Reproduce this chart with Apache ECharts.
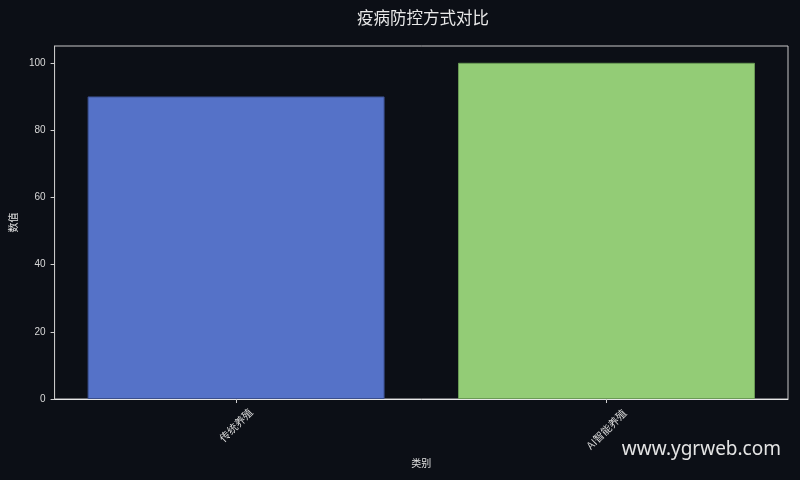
<!DOCTYPE html>
<html>
<head>
<meta charset="utf-8">
<script src="https://cdn.jsdelivr.net/npm/echarts@6/dist/echarts.min.js"></script>
<style>
html,body{margin:0;padding:0;background:#0c0f16;}
#chart{width:800px;height:480px;}
</style>
</head>
<body>
<div id="chart"></div>
<script>
const categories = ['传统养殖', 'AI智能养殖'];
const values = [90, 100];
const barColors = ['#5572c8', '#93cc76'];
const yTicks = [0, 20, 40, 60, 80, 100];

const chart = echarts.init(document.getElementById('chart'));
const numFont = '"Liberation Sans", "Noto Sans CJK SC", sans-serif';
const cjkFont = '"Noto Sans CJK SC", sans-serif';
const positions = categories.map((c, i) => i);
chart.setOption({
  backgroundColor: '#0c0f16',
  animation: false,
  title: {
    text: '疫病防控方式对比',
    left: 418, top: 4, textAlign: 'center',
    textStyle: { color: '#e8e8e8', fontSize: 16.5, fontWeight: 'normal', fontFamily: cjkFont }
  },
  grid: {
    left: 53, right: 12, top: 46, bottom: 81,
    show: true, borderColor: '#c8c8c8', borderWidth: 1, backgroundColor: 'transparent'
  },
  xAxis: {
    type: 'value',
    min: -0.49, max: 1.49,
    name: '类别',
    nameLocation: 'middle',
    nameGap: 58,
    nameTextStyle: { color: '#e0e0e0', fontSize: 10, fontFamily: cjkFont },
    axisLine: { show: true, onZero: false, lineStyle: { color: '#e8e8e8', width: 1 } },
    axisTick: { show: true, length: 4, lineStyle: { color: '#d0d0d0' }, customValues: positions },
    axisLabel: {
      customValues: positions,
      rotate: 45, align: 'center', verticalAlign: 'middle', margin: 26,
      color: '#d8d8d8', fontSize: 10.5, fontFamily: cjkFont,
      formatter: v => (Math.round(v) === 1 ? '{b|' : '{a|') + categories[Math.round(v)] + '}',
      rich: {
        a: { color: '#d8d8d8', fontSize: 10.5, fontFamily: cjkFont },
        b: { color: '#d8d8d8', fontSize: 10.5, fontFamily: cjkFont, padding: [6, 6, 0, 0] }
      }
    },
    splitLine: { show: false }
  },
  yAxis: {
    type: 'value',
    min: 0, max: 105,
    name: '数值',
    nameLocation: 'middle',
    nameGap: 33,
    nameTextStyle: { color: '#e0e0e0', fontSize: 10, fontFamily: cjkFont },
    axisLine: { show: true, onZero: false, lineStyle: { color: '#c8c8c8' } },
    axisTick: { show: true, length: 4, lineStyle: { color: '#d0d0d0' }, customValues: yTicks },
    axisLabel: { color: '#d8d8d8', fontSize: 10, margin: 9, fontFamily: numFont, customValues: yTicks },
    splitLine: { show: false }
  },
  series: [{
    type: 'bar',
    barWidth: 297,
    data: values.map((v, i) => ({
      value: [positions[i], v],
      itemStyle: { color: barColors[i], borderColor: i === 0 ? '#3a4e8c' : '#6a9a55', borderWidth: 1 }
    }))
  }],
  graphic: [{
    type: 'text',
    right: 19, top: 440,
    style: { text: 'www.ygrweb.com', fill: '#e4e4e4', fontSize: 19, fontFamily: '"Noto Sans", "Open Sans", sans-serif' }
  }]
});
</script>
</body>
</html>
